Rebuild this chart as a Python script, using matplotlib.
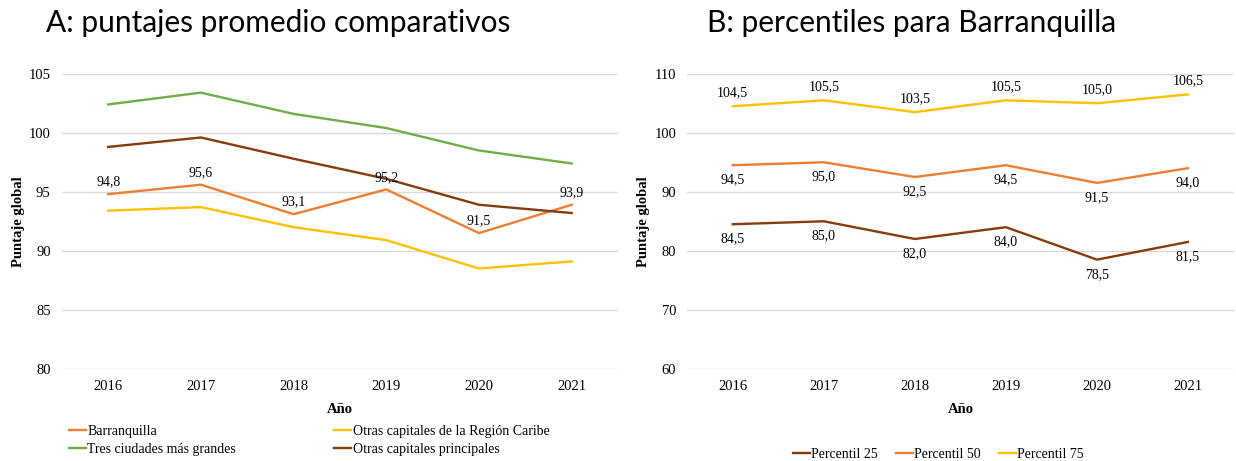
import matplotlib
matplotlib.use("Agg")
import matplotlib.pyplot as plt

# Datos
years = ["2016", "2017", "2018", "2019", "2020", "2021"]

barranquilla = [94.8, 95.6, 93.1, 95.2, 91.5, 93.9]
otras_caribe = [93.4, 93.7, 92.0, 90.9, 88.5, 89.1]
tres_ciudades = [102.4, 103.4, 101.6, 100.4, 98.5, 97.4]
otras_principales = [98.8, 99.6, 97.8, 96.1, 93.9, 93.2]

p25 = [84.5, 85.0, 82.0, 84.0, 78.5, 81.5]
p50 = [94.5, 95.0, 92.5, 94.5, 91.5, 94.0]
p75 = [104.5, 105.5, 103.5, 105.5, 105.0, 106.5]

ORANGE = "#ED7D31"
YELLOW = "#FFC000"
GREEN = "#70AD47"
BROWN = "#843C0C"
GRID = "#D9D9D9"

SERIF = "Liberation Serif"
TITLE_FONT = "Lato"
LW = 1.7


def fmt(v):
    return f"{v:.1f}".replace(".", ",")


def style_axes(ax, ylim, yticks):
    ax.set_xlim(-0.5, len(years) - 0.5)
    ax.set_ylim(*ylim)
    ax.set_yticks(yticks)
    ax.set_xticks(range(len(years)))
    ax.set_xticklabels(years)
    for s in ax.spines.values():
        s.set_visible(False)
    ax.yaxis.grid(True, color=GRID, linewidth=1)
    ax.set_axisbelow(True)
    ax.tick_params(length=0, labelsize=10.5, pad=8)
    for lab in ax.get_xticklabels() + ax.get_yticklabels():
        lab.set_fontfamily(SERIF)
    ax.set_xlabel("Año", fontfamily=SERIF, fontweight="bold", fontsize=10.5, labelpad=7)
    ax.set_ylabel("Puntaje global", fontfamily=SERIF, fontweight="bold", fontsize=10.5, labelpad=3)


fig = plt.figure(figsize=(12.36, 4.61), dpi=100)
x = list(range(len(years)))

# Panel A
ax_a = fig.add_axes([0.050, 0.200, 0.450, 0.640])
l_bq, = ax_a.plot(x, barranquilla, color=ORANGE, lw=LW, label="Barranquilla")
l_oc, = ax_a.plot(x, otras_caribe, color=YELLOW, lw=LW, label="Otras capitales de la Región Caribe")
l_tc, = ax_a.plot(x, tres_ciudades, color=GREEN, lw=LW, label="Tres ciudades más grandes")
l_op, = ax_a.plot(x, otras_principales, color=BROWN, lw=LW, label="Otras capitales principales")
for i, v in enumerate(barranquilla):
    ax_a.annotate(fmt(v), (i, v), xytext=(0, 4), textcoords="offset points",
                  ha="center", va="bottom", fontfamily=SERIF, fontsize=10)
style_axes(ax_a, (80, 105), [80, 85, 90, 95, 100, 105])
# orden por filas como en Excel
handles = [l_bq, l_tc, l_oc, l_op]
ax_a.legend(handles, [h.get_label() for h in handles],
            loc="upper left", bbox_to_anchor=(0.013, -0.19), ncol=2, frameon=False,
            prop={"family": SERIF, "size": 10}, handlelength=1.22, handletextpad=0.08,
            columnspacing=7.1, labelspacing=0.37, borderaxespad=0, borderpad=0)

# Panel B
ax_b = fig.add_axes([0.556, 0.200, 0.442, 0.640])
ax_b.plot(x, p25, color=BROWN, lw=LW, label="Percentil 25")
ax_b.plot(x, p50, color=ORANGE, lw=LW, label="Percentil 50")
ax_b.plot(x, p75, color=YELLOW, lw=LW, label="Percentil 75")
for i in x:
    ax_b.annotate(fmt(p75[i]), (i, p75[i]), xytext=(0, 5), textcoords="offset points",
                  ha="center", va="bottom", fontfamily=SERIF, fontsize=10)
    ax_b.annotate(fmt(p50[i]), (i, p50[i]), xytext=(0, -6), textcoords="offset points",
                  ha="center", va="top", fontfamily=SERIF, fontsize=10)
    ax_b.annotate(fmt(p25[i]), (i, p25[i]), xytext=(0, -6), textcoords="offset points",
                  ha="center", va="top", fontfamily=SERIF, fontsize=10)
style_axes(ax_b, (60, 110), [60, 70, 80, 90, 100, 110])
ax_b.legend(loc="upper center", bbox_to_anchor=(0.46, -0.268), ncol=3, frameon=False,
            prop={"family": SERIF, "size": 10}, handlelength=1.22, handletextpad=0.08,
            columnspacing=1.3, borderaxespad=0, borderpad=0)

fig.text(0.037, 0.950, "A: puntajes promedio comparativos", fontfamily=TITLE_FONT,
         fontsize=21.5, ha="left", va="center")
fig.text(0.572, 0.950, "B: percentiles para Barranquilla", fontfamily=TITLE_FONT,
         fontsize=21.5, ha="left", va="center")

fig.savefig("out.png", dpi=100)
